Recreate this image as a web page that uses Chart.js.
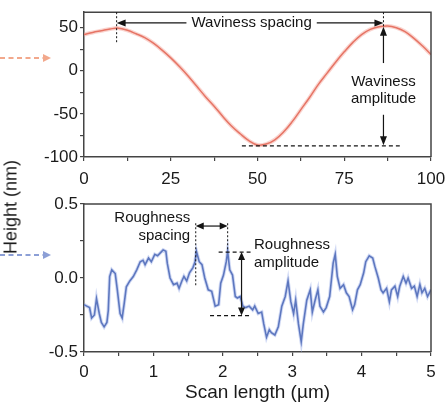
<!DOCTYPE html>
<html><head><meta charset="utf-8">
<script src="https://cdn.jsdelivr.net/npm/chart.js@4.4.1/dist/chart.umd.min.js"></script>
<style>
html,body{margin:0;padding:0;background:#fff;}
#wrap{position:relative;width:445px;height:405px;overflow:hidden;background:#fff;}
#c1{position:absolute;left:0;top:0;}
#c2{position:absolute;left:0;top:190px;}
#yt{position:absolute;left:11px;top:207px;transform:translate(-50%,-50%) rotate(-90deg);font:18px "Liberation Sans",Arial,sans-serif;color:#1a1a1a;white-space:nowrap;}
</style></head>
<body><div id="wrap">
<canvas id="c1" width="445" height="190"></canvas>
<canvas id="c2" width="445" height="215"></canvas>
<div id="yt">Height (nm)</div>
</div>
<script>
// ---- data ----
const wavX = [0,2.5,5,7.5,10,12.5,15,17.5,20,22.5,25,27.5,30,32.5,35,37.5,40,42.5,45,47.5,50,52.5,55,57.5,60,62.5,65,67.5,70,72.5,75,77.5,80,82.5,85,87.5,90,92.5,95,97.5,100];
const wavY = [42,44.5,46.5,48.5,49.5,47,43,38.5,32,24,15,5,-6,-18,-30,-41,-53,-64,-73,-81,-86,-85,-80,-71,-59,-45,-31,-16,-3,10,22,33,42,48,51,52,50,45.5,38,29,19];
const roughX = [0,0.04,0.08,0.11,0.15,0.18,0.22,0.25,0.29,0.33,0.35,0.37,0.4,0.45,0.48,0.52,0.55,0.58,0.61,0.66,0.71,0.76,0.81,0.85,0.88,0.93,0.97,1.02,1.06,1.1,1.14,1.18,1.2,1.24,1.29,1.34,1.37,1.41,1.44,1.48,1.52,1.57,1.6,1.62,1.66,1.7,1.74,1.79,1.84,1.89,1.94,1.97,2.01,2.05,2.07,2.1,2.14,2.18,2.21,2.25,2.29,2.33,2.38,2.43,2.46,2.51,2.56,2.59,2.63,2.67,2.7,2.75,2.8,2.85,2.9,2.94,2.98,3.02,3.05,3.09,3.13,3.16,3.21,3.26,3.29,3.33,3.37,3.4,3.45,3.49,3.54,3.59,3.62,3.65,3.69,3.74,3.78,3.82,3.87,3.9,3.94,3.98,4.03,4.06,4.11,4.16,4.19,4.24,4.28,4.31,4.36,4.4,4.43,4.48,4.52,4.55,4.6,4.64,4.67,4.72,4.76,4.8,4.84,4.87,4.91,4.95,5];
const roughY = [-0.18,-0.19,-0.2,-0.27,-0.25,-0.14,-0.24,-0.3,-0.33,-0.3,-0.22,0.01,0.055,0.03,-0.08,-0.24,-0.27,-0.17,-0.06,-0.02,0.01,0.055,0.11,0.12,0.09,0.135,0.11,0.16,0.15,0.17,0.19,0.18,0.1,0,-0.045,-0.035,-0.07,-0.02,0.01,-0.02,0.035,0.07,0.11,0.18,0.11,0.09,0,-0.08,-0.09,-0.19,-0.18,-0.035,0.02,0.11,0.18,0.055,0.02,-0.125,-0.135,-0.125,-0.19,-0.2,-0.19,-0.215,-0.19,-0.24,-0.23,-0.31,-0.4,-0.35,-0.37,-0.385,-0.33,-0.19,-0.125,-0.02,-0.16,-0.24,-0.15,-0.31,-0.43,-0.31,-0.15,-0.08,-0.23,-0.15,-0.08,-0.19,-0.23,-0.2,-0.125,0.1,0.16,0.01,-0.07,-0.045,-0.1,-0.125,-0.215,-0.18,-0.08,-0.045,0.035,0.11,0.15,0.135,0.08,0,-0.08,-0.1,-0.07,-0.16,-0.08,-0.055,-0.125,-0.055,0.01,-0.035,0,-0.07,-0.055,-0.125,-0.045,-0.1,-0.07,-0.125,-0.08];
const wavXTicks = [0,25,50,75,100];
const wavXMinor = [12.5,37.5,62.5,87.5];
const wavYTicks = [-100,-50,0,50];
const wavYMinor = [-75,-25,25];
const roughXTicks = [0,1,2,3,4,5];
const roughXMinor = [0.5,1.5,2.5,3.5,4.5];
const roughYTicks = [-0.5,0,0.5];
const roughYMinor = [-0.25,0.25];

const FONT = '"Liberation Sans", Arial, sans-serif';
const AX = '#444';
const INK = '#141414';

function axis(min, max, major, minor, fmt, fit, pad) {
  return {
    type: 'linear', min: min, max: max,
    afterBuildTicks: s => { s.ticks = major.concat(minor).sort((a,b)=>a-b).map(v => ({value: v})); },
    afterFit: fit,
    ticks: { autoSkip: false, maxRotation: 0, color: '#1a1a1a', font: {size: 17, family: FONT}, padding: pad,
      callback: v => major.includes(v) ? fmt(v) : '' },
    grid: { drawOnChartArea: false, drawTicks: true, tickLength: 4, color: AX, lineWidth: 1.2 },
    border: { display: true, color: AX, width: 1.5 }
  };
}

function head(ctx, x, y, ang, len, hw) {
  ctx.save(); ctx.translate(x, y); ctx.rotate(ang);
  ctx.beginPath(); ctx.moveTo(0, 0); ctx.lineTo(-len, -hw); ctx.lineTo(-len, hw); ctx.closePath();
  ctx.fillStyle = INK; ctx.fill(); ctx.restore();
}
function line(ctx, x1, y1, x2, y2, dash, w) {
  ctx.save(); ctx.strokeStyle = INK; ctx.lineWidth = w || 1.2; ctx.setLineDash(dash || []);
  ctx.beginPath(); ctx.moveTo(x1, y1); ctx.lineTo(x2, y2); ctx.stroke(); ctx.restore();
}
function boxPlugin() {
  return { id: 'box', afterDatasetsDraw(chart) {
    const a = chart.chartArea, ctx = chart.ctx;
    ctx.save(); ctx.strokeStyle = AX; ctx.lineWidth = 1.5;
    ctx.beginPath(); ctx.moveTo(a.left, a.top); ctx.lineTo(a.right, a.top); ctx.lineTo(a.right, a.bottom); ctx.stroke();
    ctx.restore();
  }};
}
function sideArrow(ctx, y, color) {
  ctx.save(); ctx.strokeStyle = color; ctx.lineWidth = 2; ctx.setLineDash([5, 3.5]);
  ctx.beginPath(); ctx.moveTo(0, y); ctx.lineTo(44, y); ctx.stroke();
  ctx.setLineDash([]); ctx.fillStyle = color;
  ctx.beginPath(); ctx.moveTo(51, y); ctx.lineTo(43, y - 4); ctx.lineTo(43, y + 4); ctx.closePath(); ctx.fill();
  ctx.restore();
}
function fitX(h) { return s => { s.height = h; s.paddingLeft = 0; s.paddingRight = 0; }; }

// ---- top chart: waviness ----
const wavAnn = { id: 'wavAnn', afterDatasetsDraw(chart) {
  const ctx = chart.ctx, X = v => chart.scales.x.getPixelForValue(v), Y = v => chart.scales.y.getPixelForValue(v);
  const x1 = X(9.4), x2 = X(86.3), ys = Y(55.5);
  line(ctx, x1, Y(68), x1, Y(32), [2, 2], 1);
  line(ctx, x2, Y(68), x2, Y(50), [2, 2], 1);
  ctx.save(); ctx.font = '15px ' + FONT; ctx.fillStyle = INK; ctx.textAlign = 'center'; ctx.textBaseline = 'middle';
  const tx = X(48.3), tw = ctx.measureText('Waviness spacing').width;
  ctx.fillText('Waviness spacing', tx, ys);
  ctx.fillText('Waviness', x2, Y(-12.5));
  ctx.fillText('amplitude', x2, Y(-33));
  ctx.restore();
  line(ctx, x1 + 6, ys, tx - tw / 2 - 5, ys);
  line(ctx, tx + tw / 2 + 5, ys, x2 - 6, ys);
  head(ctx, x1, ys, Math.PI, 9, 3.5);
  head(ctx, x2, ys, 0, 9, 3.5);
  line(ctx, x2, Y(45), x2, Y(9));
  head(ctx, x2, Y(51), -Math.PI / 2, 9, 3.5);
  line(ctx, x2, Y(-51), x2, Y(-80));
  head(ctx, x2, Y(-86.5), Math.PI / 2, 9, 3.5);
  line(ctx, X(45.5), Y(-87), X(91), Y(-87), [4, 3], 1.2);
  sideArrow(ctx, 58, '#f2a88c');
}};

new Chart(document.getElementById('c1'), {
  type: 'line',
  data: { datasets: [
    { data: wavX.map((x, i) => ({x: x, y: wavY[i]})), borderColor: 'rgba(245,170,160,0.5)', borderWidth: 4, pointRadius: 0, tension: 0.4 },
    { data: wavX.map((x, i) => ({x: x, y: wavY[i]})), borderColor: '#d63f2a', borderWidth: 1.5, pointRadius: 0, tension: 0.4 }
  ]},
  options: {
    responsive: false, animation: false, events: [],
    layout: { padding: { left: 0, right: 14, top: 12, bottom: 0 } },
    plugins: { legend: { display: false }, tooltip: { enabled: false } },
    scales: {
      x: axis(0, 100, wavXTicks, wavXMinor, v => String(v), fitX(33), 8),
      y: axis(-100, 68, wavYTicks, wavYMinor, v => String(v), s => { s.width = 84; }, 2)
    }
  },
  plugins: [boxPlugin(), wavAnn]
});

// ---- bottom chart: roughness ----
const roughAnn = { id: 'roughAnn', afterDatasetsDraw(chart) {
  const ctx = chart.ctx, X = v => chart.scales.x.getPixelForValue(v), Y = v => chart.scales.y.getPixelForValue(v);
  const x1 = X(1.61), x2 = X(2.07), ys = Y(0.351);
  line(ctx, x1, Y(0.37), x1, Y(-0.05), [2, 2], 1);
  line(ctx, x2, Y(0.37), x2, Y(0.18), [2, 2], 1);
  line(ctx, x1 + 6, ys, x2 - 6, ys);
  head(ctx, x1, ys, Math.PI, 8, 3.5);
  head(ctx, x2, ys, 0, 8, 3.5);
  ctx.save(); ctx.font = '15px ' + FONT; ctx.fillStyle = INK; ctx.textBaseline = 'middle';
  ctx.textAlign = 'right';
  ctx.fillText('Roughness', X(1.53), Y(0.408));
  ctx.fillText('spacing', X(1.53), Y(0.283));
  ctx.textAlign = 'left';
  ctx.fillText('Roughness', X(2.45), Y(0.226));
  ctx.fillText('amplitude', X(2.45), Y(0.104));
  ctx.restore();
  const xa = X(2.27);
  line(ctx, X(1.94), Y(0.175), X(2.4), Y(0.175), [4, 3], 1.2);
  line(ctx, X(1.816), Y(-0.254), X(2.4), Y(-0.254), [4, 3], 1.2);
  line(ctx, xa, Y(0.13), xa, Y(-0.21));
  head(ctx, xa, Y(0.175), -Math.PI / 2, 8, 3.5);
  head(ctx, xa, Y(-0.254), Math.PI / 2, 8, 3.5);
  sideArrow(ctx, 65, '#8c9fd6');
}};

new Chart(document.getElementById('c2'), {
  type: 'line',
  data: { datasets: [
    { data: roughX.map((x, i) => ({x: x, y: roughY[i]})), borderColor: 'rgba(150,170,230,0.45)', borderWidth: 3.5, pointRadius: 0, tension: 0 },
    { data: roughX.map((x, i) => ({x: x, y: roughY[i]})), borderColor: '#2f4d9e', borderWidth: 1.6, pointRadius: 0, tension: 0 }
  ]},
  options: {
    responsive: false, animation: false, events: [],
    layout: { padding: { left: 0, right: 14, top: 14, bottom: 0 } },
    plugins: { legend: { display: false }, tooltip: { enabled: false } },
    scales: {
      x: Object.assign(axis(0, 5, roughXTicks, roughXMinor, v => String(v), fitX(53), 6),
        { title: { display: true, text: 'Scan length (µm)', color: '#1a1a1a', font: {size: 19, family: FONT}, padding: {top: 0, bottom: 1} } }),
      y: axis(-0.5, 0.5, roughYTicks, roughYMinor, v => v.toFixed(1), s => { s.width = 84; }, 2)
    }
  },
  plugins: [boxPlugin(), roughAnn]
});
</script>
</body></html>
